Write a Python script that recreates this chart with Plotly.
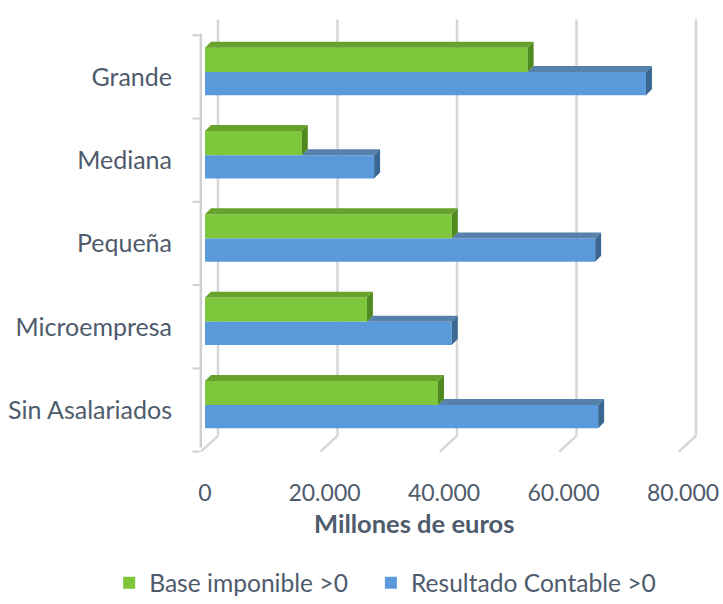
import plotly.graph_objects as go

categories = ["Grande", "Mediana", "Pequeña", "Microempresa", "Sin Asalariados"]
base_imponible = [54000, 16200, 41300, 27100, 39000]
resultado_contable = [73800, 28300, 65300, 41300, 65800]
x_ticks = [0, 20000, 40000, 60000, 80000]
x_tick_labels = ["0", "20.000", "40.000", "60.000", "80.000"]

TEXT = "#4E5B6C"
FONT = "Lato, sans-serif"

# fake 3D: depth of the bars and of the back wall (x units, category units)
DX, DY = 1000, 0.072
WALL_DX, WALL_DY = 2175, 0.19
GREEN_Y = (-0.35, -0.06)
BLUE_Y = (-0.06, 0.22)


def faces(values, y0, y1, start=None):
    """Top and right faces of each bar as polygons separated by None."""
    top_x, top_y, side_x, side_y = [], [], [], []
    for k, v in enumerate(values):
        a = 0 if start is None else start[k]
        top_x += [a, v, v + DX, a + DX, a, None]
        top_y += [k + y0, k + y0, k + y0 - DY, k + y0 - DY, k + y0, None]
        side_x += [v, v, v + DX, v + DX, v, None]
        side_y += [k + y1, k + y0, k + y0 - DY, k + y1 - DY, k + y1, None]
    return top_x, top_y, side_x, side_y


def poly(x, y, color):
    return go.Scatter(x=x, y=y, fill="toself", fillcolor=color, mode="lines",
                      line=dict(width=0, color=color), showlegend=False, hoverinfo="skip")


idx = list(range(len(categories)))
fig = go.Figure()

fig.add_trace(go.Bar(
    y=[k + sum(GREEN_Y) / 2 for k in idx], x=base_imponible, orientation="h",
    width=GREEN_Y[1] - GREEN_Y[0], name="Base imponible >0", legend="legend",
    marker=dict(color="#7EC63B", line=dict(width=0)), hovertext=categories,
))
fig.add_trace(go.Bar(
    y=[k + sum(BLUE_Y) / 2 for k in idx], x=resultado_contable, orientation="h",
    width=BLUE_Y[1] - BLUE_Y[0], name="Resultado Contable >0", legend="legend2",
    marker=dict(color="#5A9ADA", line=dict(width=0)), hovertext=categories,
))

btx, bty, bsx, bsy = faces(resultado_contable, *BLUE_Y, start=base_imponible)
gtx, gty, gsx, gsy = faces(base_imponible, *GREEN_Y)
fig.add_trace(poly(btx, bty, "#5581AA"))
fig.add_trace(poly(bsx, bsy, "#3A6893"))
fig.add_trace(poly(gtx, gty, "#66A22C"))
fig.add_trace(poly(gsx, gsy, "#4F8A1F"))

# back wall gridlines with the floor slant
n = len(categories)
for v in x_ticks:
    fig.add_shape(type="line", layer="below", x0=v + WALL_DX, x1=v + WALL_DX,
                  y0=-0.5 - WALL_DY, y1=n - 0.5 - WALL_DY,
                  line=dict(color="#D6D6D6", width=2.5))
    fig.add_shape(type="line", layer="below", x0=v - 700, x1=v + WALL_DX,
                  y0=n - 0.5, y1=n - 0.5 - WALL_DY,
                  line=dict(color="#D6D6D6", width=2.5))

# left wall + category tick marks
fig.add_shape(type="line", layer="below", x0=-700, x1=-700, y0=-0.52, y1=n - 0.55,
              line=dict(color="#CFCFCF", width=2.5))
for k in range(n + 1):
    fig.add_shape(type="line", layer="below", x0=-2100, x1=-900, y0=k - 0.5, y1=k - 0.5,
                  line=dict(color="#CFCFCF", width=2))

fig.add_annotation(text="<b>Millones de euros</b>", xref="paper", yref="paper",
                   x=0.44, y=-0.143, xanchor="center", yanchor="middle", showarrow=False,
                   font=dict(family=FONT, size=25.5, color=TEXT))

legend_style = dict(orientation="h", xref="container", yref="container", y=0.035,
                    xanchor="left", yanchor="middle",
                    font=dict(family=FONT, size=24.6, color=TEXT))

fig.update_layout(
    width=723, height=604,
    margin=dict(l=185, r=18, t=17, b=144),
    paper_bgcolor="white", plot_bgcolor="white",
    barmode="overlay",
    font=dict(family=FONT, color=TEXT),
    xaxis=dict(range=[-3347, 83682], tickvals=x_ticks, ticktext=x_tick_labels,
               showgrid=False, zeroline=False, showline=False, ticks="",
               automargin=False, ticklabelstandoff=17,
               tickfont=dict(size=23, color=TEXT)),
    yaxis=dict(range=[4.6, -0.72], tickvals=idx, ticktext=categories,
               showgrid=False, zeroline=False, showline=False, ticks="",
               automargin=False, ticklabelstandoff=12,
               tickfont=dict(size=25, color=TEXT)),
    legend=dict(legend_style, x=0.151),
    legend2=dict(legend_style, x=0.513),
    showlegend=True,
)

# page body has an 8px default margin; drop it so the figure fills the window
fig.write_html("out.html", config={"displayModeBar": False},
               post_script="document.body.style.margin = '0';")
